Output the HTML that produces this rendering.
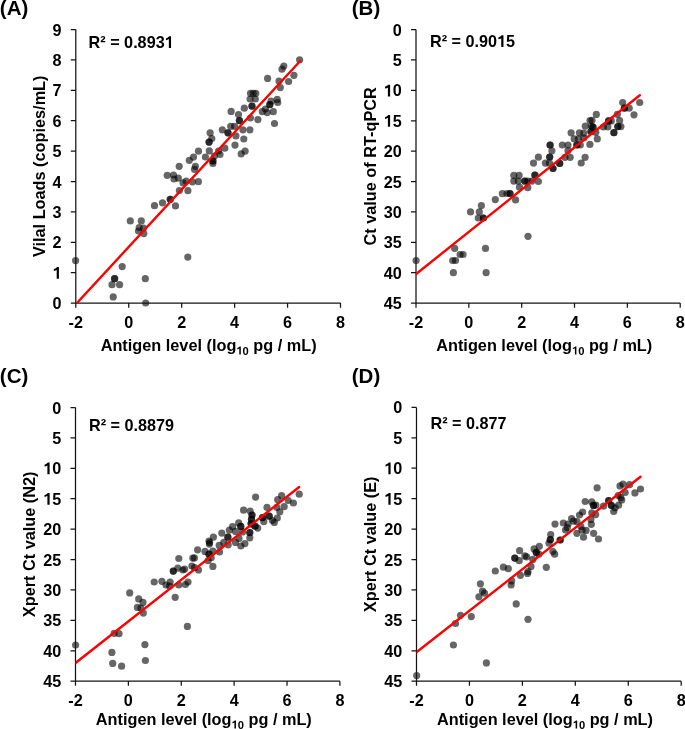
<!DOCTYPE html>
<html><head><meta charset="utf-8"><style>
html,body{margin:0;padding:0;background:#fff;width:685px;height:729px;overflow:hidden}
svg{display:block;will-change:transform}
.t{opacity:0.999}
text{font-family:"Liberation Sans",sans-serif}
</style></head><body>
<svg width="685" height="729" viewBox="0 0 685 729" font-family="Liberation Sans, sans-serif" font-weight="bold" font-size="16" fill="#000">
<g fill="#000" fill-opacity="0.6"><circle cx="75.6" cy="260.6" r="3.6"/><circle cx="122.2" cy="266.6" r="3.6"/><circle cx="114.6" cy="278.7" r="3.6"/><circle cx="114.6" cy="278.7" r="3.6"/><circle cx="112.0" cy="284.7" r="3.6"/><circle cx="119.6" cy="284.7" r="3.6"/><circle cx="113.2" cy="296.9" r="3.6"/><circle cx="145.3" cy="278.7" r="3.6"/><circle cx="145.7" cy="303.0" r="3.6"/><circle cx="130.3" cy="220.9" r="3.6"/><circle cx="141.3" cy="220.9" r="3.6"/><circle cx="139.2" cy="227.5" r="3.6"/><circle cx="138.5" cy="231.0" r="3.6"/><circle cx="143.5" cy="228.0" r="3.6"/><circle cx="143.8" cy="233.6" r="3.6"/><circle cx="154.5" cy="205.7" r="3.6"/><circle cx="162.5" cy="202.8" r="3.6"/><circle cx="170.3" cy="199.3" r="3.6"/><circle cx="170.3" cy="199.3" r="3.6"/><circle cx="175.5" cy="205.9" r="3.6"/><circle cx="179.4" cy="190.5" r="3.6"/><circle cx="187.9" cy="190.7" r="3.6"/><circle cx="192.4" cy="181.8" r="3.6"/><circle cx="198.4" cy="181.7" r="3.6"/><circle cx="187.8" cy="257.1" r="3.6"/><circle cx="173.5" cy="175.0" r="3.6"/><circle cx="174.0" cy="179.0" r="3.6"/><circle cx="178.3" cy="178.1" r="3.6"/><circle cx="179.2" cy="166.3" r="3.6"/><circle cx="183.1" cy="182.9" r="3.6"/><circle cx="186.2" cy="181.2" r="3.6"/><circle cx="189.3" cy="160.3" r="3.6"/><circle cx="193.5" cy="157.1" r="3.6"/><circle cx="198.5" cy="151.2" r="3.6"/><circle cx="195.4" cy="166.3" r="3.6"/><circle cx="194.5" cy="169.3" r="3.6"/><circle cx="205.4" cy="157.0" r="3.6"/><circle cx="209.3" cy="150.9" r="3.6"/><circle cx="212.9" cy="161.0" r="3.6"/><circle cx="212.9" cy="161.0" r="3.6"/><circle cx="212.9" cy="163.5" r="3.6"/><circle cx="218.6" cy="151.0" r="3.6"/><circle cx="220.0" cy="154.5" r="3.6"/><circle cx="224.8" cy="148.2" r="3.6"/><circle cx="209.1" cy="142.1" r="3.6"/><circle cx="209.1" cy="142.1" r="3.6"/><circle cx="214.5" cy="156.1" r="3.6"/><circle cx="210.1" cy="132.8" r="3.6"/><circle cx="211.8" cy="138.5" r="3.6"/><circle cx="222.3" cy="129.8" r="3.6"/><circle cx="228.0" cy="132.8" r="3.6"/><circle cx="228.0" cy="132.8" r="3.6"/><circle cx="230.7" cy="126.3" r="3.6"/><circle cx="234.6" cy="126.3" r="3.6"/><circle cx="235.9" cy="135.9" r="3.6"/><circle cx="235.0" cy="145.1" r="3.6"/><circle cx="231.1" cy="111.4" r="3.6"/><circle cx="238.5" cy="114.5" r="3.6"/><circle cx="239.4" cy="120.6" r="3.6"/><circle cx="239.4" cy="120.6" r="3.6"/><circle cx="242.9" cy="129.8" r="3.6"/><circle cx="249.9" cy="129.8" r="3.6"/><circle cx="243.8" cy="139.0" r="3.6"/><circle cx="241.2" cy="153.9" r="3.6"/><circle cx="245.1" cy="151.2" r="3.6"/><circle cx="244.3" cy="108.2" r="3.6"/><circle cx="252.0" cy="106.2" r="3.6"/><circle cx="252.0" cy="106.2" r="3.6"/><circle cx="250.4" cy="118.0" r="3.6"/><circle cx="257.9" cy="119.6" r="3.6"/><circle cx="250.5" cy="93.3" r="3.6"/><circle cx="253.2" cy="93.3" r="3.6"/><circle cx="255.8" cy="93.3" r="3.6"/><circle cx="250.1" cy="99.0" r="3.6"/><circle cx="255.3" cy="99.0" r="3.6"/><circle cx="262.3" cy="111.7" r="3.6"/><circle cx="265.4" cy="109.0" r="3.6"/><circle cx="267.2" cy="112.6" r="3.6"/><circle cx="269.8" cy="104.7" r="3.6"/><circle cx="269.8" cy="104.7" r="3.6"/><circle cx="271.1" cy="101.2" r="3.6"/><circle cx="273.3" cy="111.7" r="3.6"/><circle cx="277.2" cy="99.4" r="3.6"/><circle cx="277.7" cy="102.5" r="3.6"/><circle cx="267.6" cy="78.4" r="3.6"/><circle cx="279.0" cy="81.0" r="3.6"/><circle cx="280.3" cy="87.6" r="3.6"/><circle cx="288.6" cy="81.5" r="3.6"/><circle cx="293.9" cy="75.3" r="3.6"/><circle cx="283.8" cy="66.1" r="3.6"/><circle cx="282.0" cy="69.2" r="3.6"/><circle cx="299.6" cy="59.8" r="3.6"/><circle cx="167.2" cy="175.3" r="3.6"/><circle cx="274.5" cy="123.5" r="3.6"/></g>
<path d="M75.80 29.50V303.10H340.50M70.80 303.10H75.80M70.80 272.70H75.80M70.80 242.30H75.80M70.80 211.90H75.80M70.80 181.50H75.80M70.80 151.10H75.80M70.80 120.70H75.80M70.80 90.30H75.80M70.80 59.90H75.80M70.80 29.50H75.80M75.80 303.10V307.70M128.74 303.10V307.70M181.68 303.10V307.70M234.62 303.10V307.70M287.56 303.10V307.70M340.50 303.10V307.70" stroke="#141414" stroke-width="1.25" fill="none"/>
<clipPath id="cA"><rect x="75.8" y="24.5" width="269.7" height="278.6"/></clipPath>
<line clip-path="url(#cA)" x1="71.9" y1="308.5" x2="300.2" y2="61.0" stroke="#f00" stroke-width="2.4" stroke-linecap="round"/>
<g class="t"><text x="61.50" y="309.10" text-anchor="end" font-size="16.2">0</text><text id="yA1" x="61.50" y="278.70" text-anchor="end" font-size="16.2"> </text><text x="61.50" y="248.30" text-anchor="end" font-size="16.2">2</text><text x="61.50" y="217.90" text-anchor="end" font-size="16.2">3</text><text x="61.50" y="187.50" text-anchor="end" font-size="16.2">4</text><text x="61.50" y="157.10" text-anchor="end" font-size="16.2">5</text><text x="61.50" y="126.70" text-anchor="end" font-size="16.2">6</text><text x="61.50" y="96.30" text-anchor="end" font-size="16.2">7</text><text x="61.50" y="65.90" text-anchor="end" font-size="16.2">8</text><text x="61.50" y="35.50" text-anchor="end" font-size="16.2">9</text><text x="75.80" y="327.6" text-anchor="middle" font-size="16.2">-2</text><text x="128.74" y="327.6" text-anchor="middle" font-size="16.2">0</text><text x="181.68" y="327.6" text-anchor="middle" font-size="16.2">2</text><text x="234.62" y="327.6" text-anchor="middle" font-size="16.2">4</text><text x="287.56" y="327.6" text-anchor="middle" font-size="16.2">6</text><text x="340.50" y="327.6" text-anchor="middle" font-size="16.2">8</text></g>
<text class="t" x="208.65" y="351.0" text-anchor="middle" font-size="16.3">Antigen level (log<tspan id="xA" font-size="11.2" dy="3.6"> 0</tspan><tspan dy="-3.6"> pg / mL)</tspan></text>
<text class="t" transform="translate(45.30 166.30) rotate(-90)" text-anchor="middle" font-size="16.3">Vilal Loads (copies/mL)</text>
<text id="rA" class="t" x="88.6" y="48.0" font-size="16.2">R² = 0.893 </text>
<text class="t" x="-0.2" y="14.7" font-size="20.5">(A)</text>
<g fill="#000" fill-opacity="0.6"><circle cx="416.1" cy="260.5" r="3.6"/><circle cx="454.7" cy="248.4" r="3.6"/><circle cx="452.7" cy="260.5" r="3.6"/><circle cx="455.5" cy="260.5" r="3.6"/><circle cx="460.1" cy="254.5" r="3.6"/><circle cx="463.1" cy="254.5" r="3.6"/><circle cx="453.4" cy="272.7" r="3.6"/><circle cx="485.5" cy="248.4" r="3.6"/><circle cx="486.1" cy="272.7" r="3.6"/><circle cx="528.0" cy="236.3" r="3.6"/><circle cx="470.5" cy="211.9" r="3.6"/><circle cx="481.4" cy="205.6" r="3.6"/><circle cx="479.3" cy="211.9" r="3.6"/><circle cx="478.3" cy="218.0" r="3.6"/><circle cx="483.4" cy="218.0" r="3.6"/><circle cx="483.4" cy="218.0" r="3.6"/><circle cx="495.3" cy="199.6" r="3.6"/><circle cx="502.4" cy="193.7" r="3.6"/><circle cx="507.0" cy="193.5" r="3.6"/><circle cx="510.0" cy="193.5" r="3.6"/><circle cx="510.0" cy="193.5" r="3.6"/><circle cx="515.6" cy="199.9" r="3.6"/><circle cx="513.8" cy="175.4" r="3.6"/><circle cx="519.1" cy="175.4" r="3.6"/><circle cx="513.8" cy="181.1" r="3.6"/><circle cx="518.2" cy="181.1" r="3.6"/><circle cx="519.5" cy="187.2" r="3.6"/><circle cx="524.8" cy="181.1" r="3.6"/><circle cx="524.8" cy="181.1" r="3.6"/><circle cx="527.8" cy="181.1" r="3.6"/><circle cx="527.8" cy="187.7" r="3.6"/><circle cx="531.8" cy="181.1" r="3.6"/><circle cx="534.9" cy="175.0" r="3.6"/><circle cx="534.9" cy="175.0" r="3.6"/><circle cx="538.4" cy="181.5" r="3.6"/><circle cx="533.5" cy="163.1" r="3.6"/><circle cx="538.4" cy="157.2" r="3.6"/><circle cx="545.4" cy="163.1" r="3.6"/><circle cx="549.5" cy="163.1" r="3.6"/><circle cx="549.7" cy="157.0" r="3.6"/><circle cx="549.7" cy="157.0" r="3.6"/><circle cx="551.9" cy="150.8" r="3.6"/><circle cx="553.0" cy="168.5" r="3.6"/><circle cx="553.0" cy="168.5" r="3.6"/><circle cx="550.1" cy="145.0" r="3.6"/><circle cx="550.1" cy="145.0" r="3.6"/><circle cx="559.7" cy="163.4" r="3.6"/><circle cx="559.7" cy="163.4" r="3.6"/><circle cx="562.3" cy="145.0" r="3.6"/><circle cx="568.0" cy="145.0" r="3.6"/><circle cx="568.0" cy="150.7" r="3.6"/><circle cx="565.0" cy="157.3" r="3.6"/><circle cx="570.2" cy="157.3" r="3.6"/><circle cx="571.1" cy="132.8" r="3.6"/><circle cx="574.2" cy="138.9" r="3.6"/><circle cx="576.8" cy="145.0" r="3.6"/><circle cx="576.8" cy="145.0" r="3.6"/><circle cx="580.3" cy="145.0" r="3.6"/><circle cx="578.5" cy="138.9" r="3.6"/><circle cx="579.4" cy="132.8" r="3.6"/><circle cx="583.8" cy="133.2" r="3.6"/><circle cx="583.8" cy="138.0" r="3.6"/><circle cx="585.3" cy="126.2" r="3.6"/><circle cx="589.9" cy="144.4" r="3.6"/><circle cx="585.1" cy="157.3" r="3.6"/><circle cx="581.2" cy="163.0" r="3.6"/><circle cx="590.0" cy="120.5" r="3.6"/><circle cx="592.0" cy="120.3" r="3.6"/><circle cx="591.3" cy="126.0" r="3.6"/><circle cx="593.0" cy="127.0" r="3.6"/><circle cx="593.0" cy="127.0" r="3.6"/><circle cx="591.0" cy="131.5" r="3.6"/><circle cx="591.0" cy="131.5" r="3.6"/><circle cx="595.8" cy="132.3" r="3.6"/><circle cx="597.3" cy="138.9" r="3.6"/><circle cx="596.3" cy="114.4" r="3.6"/><circle cx="608.6" cy="120.9" r="3.6"/><circle cx="608.6" cy="120.9" r="3.6"/><circle cx="603.4" cy="127.0" r="3.6"/><circle cx="607.8" cy="127.0" r="3.6"/><circle cx="611.3" cy="120.9" r="3.6"/><circle cx="613.9" cy="132.7" r="3.6"/><circle cx="613.9" cy="132.7" r="3.6"/><circle cx="617.4" cy="114.3" r="3.6"/><circle cx="619.6" cy="120.5" r="3.6"/><circle cx="617.8" cy="126.6" r="3.6"/><circle cx="617.8" cy="126.6" r="3.6"/><circle cx="620.9" cy="126.6" r="3.6"/><circle cx="622.7" cy="102.5" r="3.6"/><circle cx="624.4" cy="108.2" r="3.6"/><circle cx="624.4" cy="108.2" r="3.6"/><circle cx="629.2" cy="108.2" r="3.6"/><circle cx="634.0" cy="114.8" r="3.6"/><circle cx="639.7" cy="102.5" r="3.6"/></g>
<path d="M416.00 29.60V303.10H680.20M411.00 29.60H416.00M411.00 59.99H416.00M411.00 90.38H416.00M411.00 120.77H416.00M411.00 151.16H416.00M411.00 181.54H416.00M411.00 211.93H416.00M411.00 242.32H416.00M411.00 272.71H416.00M411.00 303.10H416.00M416.00 303.10V307.70M468.84 303.10V307.70M521.68 303.10V307.70M574.52 303.10V307.70M627.36 303.10V307.70M680.20 303.10V307.70" stroke="#141414" stroke-width="1.25" fill="none"/>
<clipPath id="cB"><rect x="416.0" y="24.6" width="269.20000000000005" height="278.5"/></clipPath>
<line clip-path="url(#cB)" x1="416.1" y1="274.0" x2="639.8" y2="95.2" stroke="#f00" stroke-width="2.4" stroke-linecap="round"/>
<g class="t"><text x="401.70" y="35.60" text-anchor="end" font-size="16.2">0</text><text x="401.70" y="65.99" text-anchor="end" font-size="16.2">5</text><text id="yB10" x="401.70" y="96.38" text-anchor="end" font-size="16.2"> 0</text><text id="yB15" x="401.70" y="126.77" text-anchor="end" font-size="16.2"> 5</text><text x="401.70" y="157.16" text-anchor="end" font-size="16.2">20</text><text x="401.70" y="187.54" text-anchor="end" font-size="16.2">25</text><text x="401.70" y="217.93" text-anchor="end" font-size="16.2">30</text><text x="401.70" y="248.32" text-anchor="end" font-size="16.2">35</text><text x="401.70" y="278.71" text-anchor="end" font-size="16.2">40</text><text x="401.70" y="309.10" text-anchor="end" font-size="16.2">45</text><text x="416.00" y="327.6" text-anchor="middle" font-size="16.2">-2</text><text x="468.84" y="327.6" text-anchor="middle" font-size="16.2">0</text><text x="521.68" y="327.6" text-anchor="middle" font-size="16.2">2</text><text x="574.52" y="327.6" text-anchor="middle" font-size="16.2">4</text><text x="627.36" y="327.6" text-anchor="middle" font-size="16.2">6</text><text x="680.20" y="327.6" text-anchor="middle" font-size="16.2">8</text></g>
<text class="t" x="544.25" y="350.9" text-anchor="middle" font-size="16.3">Antigen level (log<tspan id="xB" font-size="11.2" dy="3.6"> 0</tspan><tspan dy="-3.6"> pg / mL)</tspan></text>
<text class="t" transform="translate(375.80 166.35) rotate(-90)" text-anchor="middle" font-size="16.3">Ct value of RT-qPCR</text>
<text id="rB" class="t" x="430.0" y="47.1" font-size="16.2">R² = 0.90 5</text>
<text class="t" x="351.8" y="14.7" font-size="20.5">(B)</text>
<g fill="#000" fill-opacity="0.6"><circle cx="75.6" cy="645.0" r="3.6"/><circle cx="114.2" cy="633.3" r="3.6"/><circle cx="119.0" cy="633.7" r="3.6"/><circle cx="111.9" cy="652.4" r="3.6"/><circle cx="112.7" cy="663.4" r="3.6"/><circle cx="121.6" cy="666.2" r="3.6"/><circle cx="144.9" cy="644.6" r="3.6"/><circle cx="145.4" cy="660.5" r="3.6"/><circle cx="129.7" cy="592.9" r="3.6"/><circle cx="138.7" cy="598.9" r="3.6"/><circle cx="143.0" cy="602.4" r="3.6"/><circle cx="137.4" cy="607.4" r="3.6"/><circle cx="140.9" cy="608.0" r="3.6"/><circle cx="143.3" cy="613.1" r="3.6"/><circle cx="154.2" cy="582.0" r="3.6"/><circle cx="161.9" cy="581.3" r="3.6"/><circle cx="166.0" cy="585.0" r="3.6"/><circle cx="170.1" cy="582.0" r="3.6"/><circle cx="169.6" cy="586.1" r="3.6"/><circle cx="175.2" cy="597.3" r="3.6"/><circle cx="187.4" cy="626.4" r="3.6"/><circle cx="173.3" cy="571.1" r="3.6"/><circle cx="173.3" cy="571.1" r="3.6"/><circle cx="177.8" cy="568.2" r="3.6"/><circle cx="182.8" cy="570.0" r="3.6"/><circle cx="184.7" cy="569.1" r="3.6"/><circle cx="178.8" cy="585.0" r="3.6"/><circle cx="185.4" cy="584.5" r="3.6"/><circle cx="188.0" cy="582.0" r="3.6"/><circle cx="178.8" cy="558.5" r="3.6"/><circle cx="192.8" cy="558.1" r="3.6"/><circle cx="194.4" cy="557.9" r="3.6"/><circle cx="191.9" cy="566.0" r="3.6"/><circle cx="194.5" cy="567.7" r="3.6"/><circle cx="198.5" cy="569.9" r="3.6"/><circle cx="197.6" cy="549.8" r="3.6"/><circle cx="205.0" cy="551.4" r="3.6"/><circle cx="209.0" cy="554.2" r="3.6"/><circle cx="209.0" cy="554.2" r="3.6"/><circle cx="211.2" cy="557.7" r="3.6"/><circle cx="208.1" cy="560.7" r="3.6"/><circle cx="212.9" cy="566.4" r="3.6"/><circle cx="209.0" cy="541.0" r="3.6"/><circle cx="209.6" cy="542.6" r="3.6"/><circle cx="209.4" cy="544.1" r="3.6"/><circle cx="213.4" cy="537.1" r="3.6"/><circle cx="212.9" cy="551.1" r="3.6"/><circle cx="219.5" cy="552.0" r="3.6"/><circle cx="249.8" cy="532.6" r="3.6"/><circle cx="249.8" cy="532.6" r="3.6"/><circle cx="249.8" cy="537.8" r="3.6"/><circle cx="243.6" cy="510.2" r="3.6"/><circle cx="250.2" cy="511.1" r="3.6"/><circle cx="252.0" cy="515.0" r="3.6"/><circle cx="252.0" cy="515.0" r="3.6"/><circle cx="251.5" cy="519.4" r="3.6"/><circle cx="251.5" cy="519.4" r="3.6"/><circle cx="251.1" cy="523.8" r="3.6"/><circle cx="251.1" cy="523.8" r="3.6"/><circle cx="255.0" cy="526.2" r="3.6"/><circle cx="255.0" cy="526.2" r="3.6"/><circle cx="257.7" cy="528.1" r="3.6"/><circle cx="255.6" cy="497.1" r="3.6"/><circle cx="262.5" cy="517.6" r="3.6"/><circle cx="262.5" cy="517.6" r="3.6"/><circle cx="263.8" cy="521.6" r="3.6"/><circle cx="267.0" cy="507.4" r="3.6"/><circle cx="269.2" cy="516.2" r="3.6"/><circle cx="269.2" cy="516.2" r="3.6"/><circle cx="272.4" cy="520.5" r="3.6"/><circle cx="274.3" cy="522.4" r="3.6"/><circle cx="277.3" cy="518.0" r="3.6"/><circle cx="279.8" cy="511.8" r="3.6"/><circle cx="276.9" cy="507.4" r="3.6"/><circle cx="284.2" cy="506.7" r="3.6"/><circle cx="277.7" cy="499.7" r="3.6"/><circle cx="281.6" cy="495.6" r="3.6"/><circle cx="288.2" cy="500.5" r="3.6"/><circle cx="293.4" cy="503.0" r="3.6"/><circle cx="299.2" cy="494.2" r="3.6"/><circle cx="219.2" cy="545.4" r="3.6"/><circle cx="221.8" cy="533.1" r="3.6"/><circle cx="223.8" cy="542.4" r="3.6"/><circle cx="227.9" cy="537.2" r="3.6"/><circle cx="227.9" cy="537.2" r="3.6"/><circle cx="228.2" cy="544.8" r="3.6"/><circle cx="229.4" cy="530.2" r="3.6"/><circle cx="232.6" cy="526.7" r="3.6"/><circle cx="238.7" cy="522.9" r="3.6"/><circle cx="240.8" cy="526.4" r="3.6"/><circle cx="240.8" cy="526.4" r="3.6"/><circle cx="235.5" cy="531.4" r="3.6"/><circle cx="239.0" cy="538.4" r="3.6"/><circle cx="235.5" cy="542.4" r="3.6"/><circle cx="240.8" cy="546.0" r="3.6"/><circle cx="244.9" cy="543.6" r="3.6"/><circle cx="242.5" cy="531.9" r="3.6"/></g>
<path d="M75.50 407.50V681.20H339.90M70.50 407.50H75.50M70.50 437.91H75.50M70.50 468.32H75.50M70.50 498.73H75.50M70.50 529.14H75.50M70.50 559.56H75.50M70.50 589.97H75.50M70.50 620.38H75.50M70.50 650.79H75.50M70.50 681.20H75.50M75.50 681.20V685.80M128.38 681.20V685.80M181.26 681.20V685.80M234.14 681.20V685.80M287.02 681.20V685.80M339.90 681.20V685.80" stroke="#141414" stroke-width="1.25" fill="none"/>
<clipPath id="cC"><rect x="75.5" y="402.5" width="269.4" height="278.70000000000005"/></clipPath>
<line clip-path="url(#cC)" x1="75.5" y1="663.0" x2="299.2" y2="487.0" stroke="#f00" stroke-width="2.4" stroke-linecap="round"/>
<g class="t"><text x="61.20" y="413.50" text-anchor="end" font-size="16.2">0</text><text x="61.20" y="443.91" text-anchor="end" font-size="16.2">5</text><text id="yC10" x="61.20" y="474.32" text-anchor="end" font-size="16.2"> 0</text><text id="yC15" x="61.20" y="504.73" text-anchor="end" font-size="16.2"> 5</text><text x="61.20" y="535.14" text-anchor="end" font-size="16.2">20</text><text x="61.20" y="565.56" text-anchor="end" font-size="16.2">25</text><text x="61.20" y="595.97" text-anchor="end" font-size="16.2">30</text><text x="61.20" y="626.38" text-anchor="end" font-size="16.2">35</text><text x="61.20" y="656.79" text-anchor="end" font-size="16.2">40</text><text x="61.20" y="687.20" text-anchor="end" font-size="16.2">45</text><text x="75.50" y="705.6" text-anchor="middle" font-size="16.2">-2</text><text x="128.38" y="705.6" text-anchor="middle" font-size="16.2">0</text><text x="181.26" y="705.6" text-anchor="middle" font-size="16.2">2</text><text x="234.14" y="705.6" text-anchor="middle" font-size="16.2">4</text><text x="287.02" y="705.6" text-anchor="middle" font-size="16.2">6</text><text x="339.90" y="705.6" text-anchor="middle" font-size="16.2">8</text></g>
<text class="t" x="203.8" y="725.0" text-anchor="middle" font-size="16.3">Antigen level (log<tspan id="xC" font-size="11.2" dy="3.6"> 0</tspan><tspan dy="-3.6"> pg / mL)</tspan></text>
<text class="t" transform="translate(35.30 544.35) rotate(-90)" text-anchor="middle" font-size="16.3">Xpert Ct value (N2)</text>
<text class="t" x="89.0" y="431.2" font-size="16.2">R² = 0.8879</text>
<text class="t" x="-0.2" y="383.3" font-size="20.5">(C)</text>
<g fill="#000" fill-opacity="0.6"><circle cx="416.7" cy="675.6" r="3.6"/><circle cx="460.5" cy="615.3" r="3.6"/><circle cx="455.5" cy="623.5" r="3.6"/><circle cx="471.3" cy="616.6" r="3.6"/><circle cx="453.4" cy="645.0" r="3.6"/><circle cx="486.4" cy="662.9" r="3.6"/><circle cx="480.4" cy="583.8" r="3.6"/><circle cx="482.5" cy="591.2" r="3.6"/><circle cx="484.5" cy="593.2" r="3.6"/><circle cx="478.9" cy="596.8" r="3.6"/><circle cx="495.3" cy="571.0" r="3.6"/><circle cx="503.4" cy="567.2" r="3.6"/><circle cx="508.3" cy="568.7" r="3.6"/><circle cx="511.6" cy="580.9" r="3.6"/><circle cx="511.1" cy="585.0" r="3.6"/><circle cx="520.4" cy="575.3" r="3.6"/><circle cx="516.2" cy="603.9" r="3.6"/><circle cx="528.0" cy="619.3" r="3.6"/><circle cx="514.8" cy="558.1" r="3.6"/><circle cx="514.8" cy="558.1" r="3.6"/><circle cx="519.2" cy="560.7" r="3.6"/><circle cx="519.6" cy="550.7" r="3.6"/><circle cx="524.9" cy="555.9" r="3.6"/><circle cx="526.6" cy="556.8" r="3.6"/><circle cx="528.0" cy="571.7" r="3.6"/><circle cx="527.5" cy="573.4" r="3.6"/><circle cx="531.0" cy="566.4" r="3.6"/><circle cx="532.8" cy="559.4" r="3.6"/><circle cx="534.1" cy="548.9" r="3.6"/><circle cx="539.3" cy="546.3" r="3.6"/><circle cx="536.3" cy="552.4" r="3.6"/><circle cx="536.3" cy="552.4" r="3.6"/><circle cx="538.9" cy="554.2" r="3.6"/><circle cx="546.3" cy="567.3" r="3.6"/><circle cx="550.7" cy="534.5" r="3.6"/><circle cx="550.3" cy="539.7" r="3.6"/><circle cx="550.3" cy="539.7" r="3.6"/><circle cx="549.0" cy="543.2" r="3.6"/><circle cx="552.9" cy="551.5" r="3.6"/><circle cx="554.7" cy="554.2" r="3.6"/><circle cx="560.2" cy="540.0" r="3.6"/><circle cx="560.2" cy="540.0" r="3.6"/><circle cx="555.0" cy="524.1" r="3.6"/><circle cx="563.3" cy="523.0" r="3.6"/><circle cx="565.5" cy="530.0" r="3.6"/><circle cx="568.1" cy="524.0" r="3.6"/><circle cx="567.3" cy="527.7" r="3.6"/><circle cx="571.6" cy="518.5" r="3.6"/><circle cx="573.4" cy="521.2" r="3.6"/><circle cx="576.9" cy="521.6" r="3.6"/><circle cx="576.9" cy="533.3" r="3.6"/><circle cx="580.8" cy="526.4" r="3.6"/><circle cx="582.2" cy="530.2" r="3.6"/><circle cx="586.1" cy="530.4" r="3.6"/><circle cx="583.5" cy="537.2" r="3.6"/><circle cx="579.5" cy="515.0" r="3.6"/><circle cx="582.6" cy="512.0" r="3.6"/><circle cx="585.2" cy="501.5" r="3.6"/><circle cx="591.8" cy="501.9" r="3.6"/><circle cx="593.5" cy="505.4" r="3.6"/><circle cx="593.5" cy="505.4" r="3.6"/><circle cx="591.8" cy="512.8" r="3.6"/><circle cx="595.7" cy="514.6" r="3.6"/><circle cx="590.9" cy="519.4" r="3.6"/><circle cx="591.3" cy="524.3" r="3.6"/><circle cx="593.6" cy="533.3" r="3.6"/><circle cx="598.5" cy="539.0" r="3.6"/><circle cx="597.1" cy="487.8" r="3.6"/><circle cx="603.5" cy="506.2" r="3.6"/><circle cx="608.7" cy="500.7" r="3.6"/><circle cx="608.7" cy="500.7" r="3.6"/><circle cx="611.3" cy="505.3" r="3.6"/><circle cx="611.3" cy="505.3" r="3.6"/><circle cx="613.7" cy="511.5" r="3.6"/><circle cx="615.1" cy="507.8" r="3.6"/><circle cx="595.9" cy="505.2" r="3.6"/><circle cx="620.0" cy="485.9" r="3.6"/><circle cx="623.0" cy="484.2" r="3.6"/><circle cx="629.6" cy="484.6" r="3.6"/><circle cx="625.2" cy="492.5" r="3.6"/><circle cx="634.9" cy="492.9" r="3.6"/><circle cx="640.5" cy="489.0" r="3.6"/><circle cx="618.2" cy="495.5" r="3.6"/><circle cx="620.8" cy="497.7" r="3.6"/><circle cx="621.7" cy="499.9" r="3.6"/><circle cx="618.6" cy="505.2" r="3.6"/></g>
<path d="M416.50 407.40V681.20H681.20M411.50 407.40H416.50M411.50 437.82H416.50M411.50 468.24H416.50M411.50 498.67H416.50M411.50 529.09H416.50M411.50 559.51H416.50M411.50 589.93H416.50M411.50 620.36H416.50M411.50 650.78H416.50M411.50 681.20H416.50M416.50 681.20V685.80M469.44 681.20V685.80M522.38 681.20V685.80M575.32 681.20V685.80M628.26 681.20V685.80M681.20 681.20V685.80" stroke="#141414" stroke-width="1.25" fill="none"/>
<clipPath id="cD"><rect x="416.5" y="402.4" width="269.70000000000005" height="278.80000000000007"/></clipPath>
<line clip-path="url(#cD)" x1="416.7" y1="652.0" x2="640.5" y2="476.7" stroke="#f00" stroke-width="2.4" stroke-linecap="round"/>
<g class="t"><text x="402.20" y="413.40" text-anchor="end" font-size="16.2">0</text><text x="402.20" y="443.82" text-anchor="end" font-size="16.2">5</text><text id="yD10" x="402.20" y="474.24" text-anchor="end" font-size="16.2"> 0</text><text id="yD15" x="402.20" y="504.67" text-anchor="end" font-size="16.2"> 5</text><text x="402.20" y="535.09" text-anchor="end" font-size="16.2">20</text><text x="402.20" y="565.51" text-anchor="end" font-size="16.2">25</text><text x="402.20" y="595.93" text-anchor="end" font-size="16.2">30</text><text x="402.20" y="626.36" text-anchor="end" font-size="16.2">35</text><text x="402.20" y="656.78" text-anchor="end" font-size="16.2">40</text><text x="402.20" y="687.20" text-anchor="end" font-size="16.2">45</text><text x="416.50" y="705.6" text-anchor="middle" font-size="16.2">-2</text><text x="469.44" y="705.6" text-anchor="middle" font-size="16.2">0</text><text x="522.38" y="705.6" text-anchor="middle" font-size="16.2">2</text><text x="575.32" y="705.6" text-anchor="middle" font-size="16.2">4</text><text x="628.26" y="705.6" text-anchor="middle" font-size="16.2">6</text><text x="681.20" y="705.6" text-anchor="middle" font-size="16.2">8</text></g>
<text class="t" x="545.0" y="725.0" text-anchor="middle" font-size="16.3">Antigen level (log<tspan id="xD" font-size="11.2" dy="3.6"> 0</tspan><tspan dy="-3.6"> pg / mL)</tspan></text>
<text class="t" transform="translate(376.30 544.30) rotate(-90)" text-anchor="middle" font-size="16.3">Xpert Ct value (E)</text>
<text class="t" x="430.5" y="429.4" font-size="16.2">R² = 0.877</text>
<text class="t" x="351.8" y="383.3" font-size="20.5">(D)</text>
<g class="t"><path transform="matrix(0.007910 0 0 -0.007910 52.48 278.70)" d="M813 0H532V1130Q400 1040 169 985V1215Q300 1255 420 1335Q530 1410 585 1484H813Z"/><path transform="matrix(0.005469 0 0 -0.005469 236.36 354.60)" d="M813 0H532V1130Q400 1040 169 985V1215Q300 1255 420 1335Q530 1410 585 1484H813Z"/><path transform="matrix(0.007910 0 0 -0.007910 164.63 48.00)" d="M813 0H532V1130Q400 1040 169 985V1215Q300 1255 420 1335Q530 1410 585 1484H813Z"/><path transform="matrix(0.007910 0 0 -0.007910 383.68 96.38)" d="M813 0H532V1130Q400 1040 169 985V1215Q300 1255 420 1335Q530 1410 585 1484H813Z"/><path transform="matrix(0.007910 0 0 -0.007910 383.68 126.77)" d="M813 0H532V1130Q400 1040 169 985V1215Q300 1255 420 1335Q530 1410 585 1484H813Z"/><path transform="matrix(0.005469 0 0 -0.005469 571.96 354.50)" d="M813 0H532V1130Q400 1040 169 985V1215Q300 1255 420 1335Q530 1410 585 1484H813Z"/><path transform="matrix(0.007910 0 0 -0.007910 497.03 47.10)" d="M813 0H532V1130Q400 1040 169 985V1215Q300 1255 420 1335Q530 1410 585 1484H813Z"/><path transform="matrix(0.007910 0 0 -0.007910 43.18 474.32)" d="M813 0H532V1130Q400 1040 169 985V1215Q300 1255 420 1335Q530 1410 585 1484H813Z"/><path transform="matrix(0.007910 0 0 -0.007910 43.18 504.73)" d="M813 0H532V1130Q400 1040 169 985V1215Q300 1255 420 1335Q530 1410 585 1484H813Z"/><path transform="matrix(0.005469 0 0 -0.005469 231.51 728.60)" d="M813 0H532V1130Q400 1040 169 985V1215Q300 1255 420 1335Q530 1410 585 1484H813Z"/><path transform="matrix(0.007910 0 0 -0.007910 384.18 474.24)" d="M813 0H532V1130Q400 1040 169 985V1215Q300 1255 420 1335Q530 1410 585 1484H813Z"/><path transform="matrix(0.007910 0 0 -0.007910 384.18 504.67)" d="M813 0H532V1130Q400 1040 169 985V1215Q300 1255 420 1335Q530 1410 585 1484H813Z"/><path transform="matrix(0.005469 0 0 -0.005469 572.71 728.60)" d="M813 0H532V1130Q400 1040 169 985V1215Q300 1255 420 1335Q530 1410 585 1484H813Z"/></g>
</svg>
</body></html>
